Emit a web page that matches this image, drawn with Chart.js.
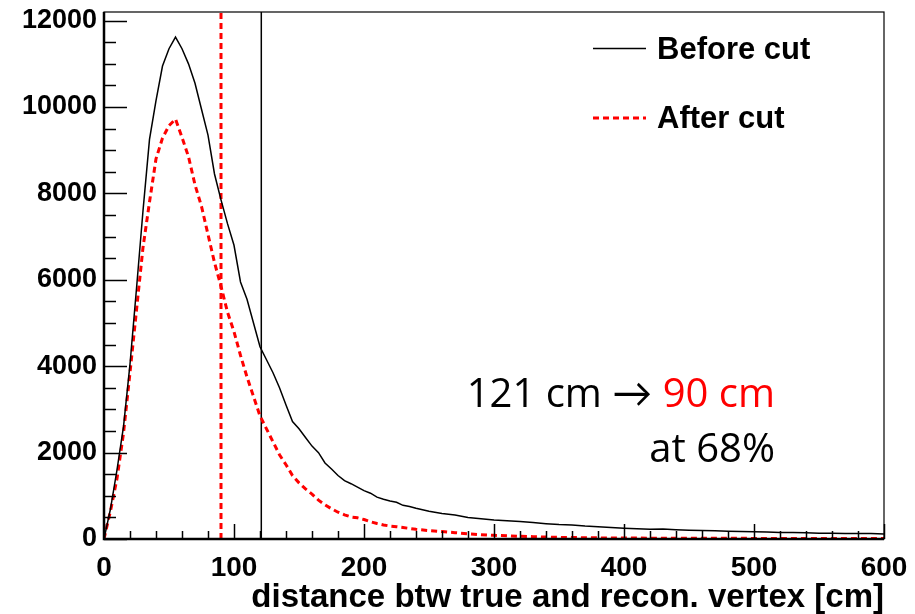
<!DOCTYPE html>
<html>
<head>
<meta charset="utf-8">
<script src="https://cdn.jsdelivr.net/npm/chart.js@4.4.1/dist/chart.umd.min.js"></script>
<style>
    html, body { margin: 0; padding: 0; background: #fff; }
    canvas { display: block; }
</style>
</head>
<body>
<canvas id="vertexChart" width="915" height="614"></canvas>
<script>
// distance btw true and recon. vertex [cm]
const distances = [
    0, 5, 10, 15, 20, 25, 30, 35, 40, 45, 50, 55, 60, 65, 70, 75, 80, 85, 90, 95,
    100, 105, 110, 115, 120, 125, 130, 135, 140, 145, 150, 155, 160, 165, 170, 175, 180, 185, 190, 195,
    200, 205, 210, 215, 220, 225, 230, 235, 240,
    250, 260, 270, 280, 290, 300, 310, 320, 330, 340, 350, 360, 370, 380, 390, 400,
    410, 420, 430, 440, 450, 460, 470, 480, 490, 500, 510, 520, 530, 540, 550, 560, 570, 580, 590, 600
];
const beforeCut = [
    0, 700, 1600, 2600, 4050, 5800, 7600, 9250, 10150, 10950, 11350, 11620, 11350, 11000, 10550, 9950, 9350, 8450, 7850, 7300,
    6800, 5950, 5550, 5000, 4450, 4150, 3850, 3500, 3100, 2720, 2550, 2350, 2150, 2000, 1760, 1620, 1470, 1350, 1280, 1200,
    1120, 1060, 970, 920, 880, 850, 780, 750, 710,
    640, 590, 556, 500, 470, 440, 425, 405, 380, 355, 335, 325, 300, 282, 265, 250,
    238, 225, 230, 215, 205, 195, 190, 182, 172, 165, 160, 150, 148, 145, 135, 132, 130, 128, 125, 115
];
const afterCut = [
    0, 650, 1400, 2450, 3850, 5300, 6750, 7800, 8800, 9280, 9570, 9720, 9300, 8850, 8200, 7700, 7050, 6400, 5850, 5250,
    4800, 4250, 3750, 3300, 2850, 2550, 2250, 1950, 1720, 1470, 1300, 1160, 1040, 900, 790, 700, 620, 560, 510, 490,
    450, 400, 360, 325, 300, 285, 265, 245, 224,
    195, 172, 147, 120, 100, 85, 75, 62, 54, 45, 38, 33, 30, 26, 23, 22,
    21, 20, 19, 18, 17, 16, 16, 15, 15, 14, 14, 13, 13, 12, 12, 11, 11, 10, 10, 10
];

// 68% containment distances
const cutBefore = 121;
const cutAfter = 90;

const xTicks = [0, 100, 200, 300, 400, 500, 600];
const yTicks = [0, 2000, 4000, 6000, 8000, 10000, 12000];
const xMinorStep = 20;
const yMinorStep = 500;
const yTop = 12200;

const legendLabels = ['Before cut', 'After cut'];
const noteBefore = '121 cm \u2192 ';
const noteAfter = '90 cm';
const noteLevel = 'at 68%';

const RED = '#ff0000';
const HELV = '"Liberation Sans", Arial, sans-serif';

function toPoints(xs, ys) {
    return xs.map((x, i) => ({ x: x, y: ys[i] }));
}

// ROOT style frame with ticks drawn inwards, legend box and note
const rootFrame = {
    id: 'rootFrame',
    afterDatasetsDraw(chart) {
        const ctx = chart.ctx;
        const area = chart.chartArea;
        const xs = chart.scales.x;
        const ys = chart.scales.y;
        ctx.save();
        ctx.strokeStyle = '#000';

        // x ticks
        ctx.lineWidth = 1.5;
        for (let v = 0; v <= 600; v += xMinorStep) {
            const px = Math.round(xs.getPixelForValue(v)) + 0.5;
            const len = xTicks.includes(v) ? 15 : 8;
            ctx.beginPath();
            ctx.moveTo(px, area.bottom);
            ctx.lineTo(px, area.bottom - len);
            ctx.stroke();
        }
        // y ticks
        for (let v = 0; v <= 12000; v += yMinorStep) {
            const py = Math.round(ys.getPixelForValue(v)) + 0.5;
            const len = yTicks.includes(v) ? 23 : 12;
            ctx.beginPath();
            ctx.moveTo(area.left, py);
            ctx.lineTo(area.left + len, py);
            ctx.stroke();
        }

        // frame
        ctx.lineWidth = 1.2;
        ctx.strokeRect(area.left, area.top, area.right - area.left, area.bottom - area.top);
        ctx.lineWidth = 2.5;
        ctx.beginPath();
        ctx.moveTo(area.left, area.top);
        ctx.lineTo(area.left, area.bottom);
        ctx.lineTo(area.right, area.bottom);
        ctx.stroke();
        ctx.restore();
    },
    afterDraw(chart) {
        const ctx = chart.ctx;
        ctx.save();

        // legend
        ctx.font = 'bold 31px ' + HELV;
        ctx.textBaseline = 'alphabetic';
        ctx.textAlign = 'left';
        ctx.fillStyle = '#000';

        ctx.strokeStyle = '#000';
        ctx.lineWidth = 1.5;
        ctx.beginPath();
        ctx.moveTo(593, 48.5);
        ctx.lineTo(646, 48.5);
        ctx.stroke();
        ctx.fillText(legendLabels[0], 657, 59);

        ctx.strokeStyle = RED;
        ctx.lineWidth = 3;
        ctx.setLineDash([6, 4]);
        ctx.beginPath();
        ctx.moveTo(593, 118);
        ctx.lineTo(646, 118);
        ctx.stroke();
        ctx.setLineDash([]);
        ctx.fillText(legendLabels[1], 657, 128);

        // note
        ctx.font = '40px "Open Sans", Lato, sans-serif';
        ctx.textAlign = 'right';
        ctx.fillStyle = RED;
        ctx.fillText(noteAfter, 775, 407);
        const w = ctx.measureText(noteAfter).width;
        ctx.fillStyle = '#000';
        ctx.fillText(noteBefore, 775 - w, 407);
        ctx.fillText(noteLevel, 775, 462);
        ctx.restore();
    }
};

const ctx = document.getElementById('vertexChart').getContext('2d');
new Chart(ctx, {
    type: 'line',
    data: {
        datasets: [
            {
                label: legendLabels[0],
                data: toPoints(distances, beforeCut),
                borderColor: '#000',
                borderWidth: 1.5,
                pointRadius: 0,
                tension: 0,
                fill: false,
            },
            {
                label: legendLabels[1],
                data: toPoints(distances, afterCut),
                borderColor: RED,
                borderWidth: 3,
                borderDash: [6, 4],
                pointRadius: 0,
                tension: 0,
                fill: false,
            },
            {
                label: 'cut before',
                data: [{ x: cutBefore, y: 0 }, { x: cutBefore, y: yTop }],
                borderColor: '#000',
                borderWidth: 1.5,
                pointRadius: 0,
            },
            {
                label: 'cut after',
                data: [{ x: cutAfter, y: 0 }, { x: cutAfter, y: yTop }],
                borderColor: RED,
                borderWidth: 3,
                borderDash: [6, 4],
                pointRadius: 0,
            },
        ],
    },
    options: {
        responsive: false,
        animation: false,
        devicePixelRatio: 1,
        layout: { padding: { left: 0, right: 31, top: 12, bottom: 0 } },
        plugins: {
            legend: { display: false },
            tooltip: { enabled: false },
            title: { display: false },
        },
        scales: {
            x: {
                type: 'linear',
                min: 0,
                max: 600,
                grid: { display: false, drawTicks: false },
                border: { display: false },
                afterBuildTicks: (scale) => { scale.ticks = xTicks.map(v => ({ value: v })); },
                afterFit: (scale) => { scale.height = 75; scale.paddingLeft = 0; scale.paddingRight = 0; },
                ticks: {
                    padding: 12,
                    color: '#000',
                    maxRotation: 0,
                    callback: (v) => String(v),
                    font: { family: HELV, weight: 'bold', size: 28 },
                },
                title: {
                    display: true,
                    align: 'end',
                    text: 'distance btw true and recon. vertex [cm]',
                    color: '#000',
                    padding: { top: 0, bottom: 0 },
                    font: { family: HELV, weight: 'bold', size: 33, lineHeight: 1.0 },
                },
            },
            y: {
                type: 'linear',
                min: 0,
                max: yTop,
                grid: { display: false, drawTicks: false },
                border: { display: false },
                afterBuildTicks: (scale) => { scale.ticks = yTicks.map(v => ({ value: v })); },
                afterFit: (scale) => { scale.width = 104; scale.paddingTop = 0; scale.paddingBottom = 0; },
                ticks: {
                    padding: 7,
                    color: '#000',
                    callback: (v) => String(v),
                    font: { family: HELV, weight: 'bold', size: 27 },
                },
            },
        },
    },
    plugins: [rootFrame],
});
</script>
</body>
</html>
